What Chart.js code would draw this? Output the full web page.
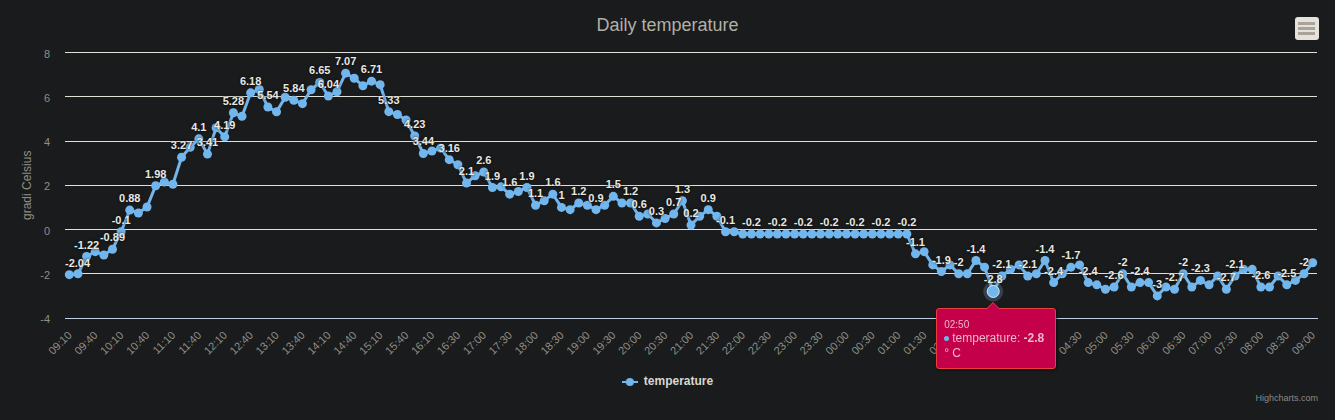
<!DOCTYPE html>
<html>
<head>
<meta charset="utf-8">
<title>Daily temperature</title>
<script src="https://cdn.jsdelivr.net/npm/chart.js@4/dist/chart.umd.min.js"></script>
<style>
  html, body { margin: 0; padding: 0; background: #1a1b1d; }
  #wrap { position: relative; width: 1335px; height: 420px; overflow: hidden; }
  #tip {
    position: absolute; box-sizing: border-box; width: 120px; height: 61px;
    padding: 9px 7px; background: #c4004a; border: 1px solid #e8403c; border-radius: 3px;
    box-shadow: 1px 1px 3px rgba(0,0,0,.6);
    font: 12px/15px "Liberation Sans", Arial, sans-serif; color: #eeb8ca;
  }
  #tip:before, #tip:after { content: ""; position: absolute; border-style: solid; border-top: 0; border-left-color: transparent; border-right-color: transparent; }
  #tip:before { left: 49px; top: -7px; border-width: 0 7px 7px; border-bottom-color: #e8403c; }
  #tip:after { left: 50px; top: -6px; border-width: 0 6px 6px; border-bottom-color: #c4004a; }
  #tip .t { font-size: 10px; line-height: 13px; }
  #tip .d { display: inline-block; width: 5px; height: 5px; margin: 0 3px 1px 0; border-radius: 50%; background: #72b6ee; }
</style>
</head>
<body>
<div id="wrap">
  <canvas id="chart" width="1335" height="420"></canvas>
  <div id="tip" style="display:none"></div>
</div>
<script>
const times = [
  '09:10','09:20','09:30','09:40','09:50','10:00','10:10','10:20','10:30','10:40','10:50','11:00',
  '11:10','11:20','11:30','11:40','11:50','12:00','12:10','12:20','12:30','12:40','12:50','13:00',
  '13:10','13:20','13:30','13:40','13:50','14:00','14:10','14:20','14:30','14:40','14:50','15:00',
  '15:10','15:20','15:30','15:40','15:50','16:00','16:10','16:20','16:20','16:30','16:40','16:50',
  '17:00','17:10','17:20','17:30','17:40','17:50','18:00','18:10','18:20','18:30','18:40','18:50',
  '19:00','19:10','19:20','19:30','19:40','19:50','20:00','20:10','20:20','20:30','20:40','20:50',
  '21:00','21:10','21:20','21:30','21:40','21:50','22:00','22:10','22:20','22:30','22:40','22:50',
  '23:00','23:10','23:20','23:30','23:40','23:50','00:00','00:10','00:20','00:30','00:40','00:50',
  '01:00','01:10','01:20','01:30','01:40','01:50','02:00','02:10','02:20','02:30','02:40','02:50',
  '03:00','03:10','03:20','03:30','03:40','03:50','04:00','04:10','04:20','04:30','04:40','04:50',
  '05:00','05:10','05:20','05:30','05:40','05:50','06:00','06:10','06:20','06:30','06:40','06:50',
  '07:00','07:10','07:20','07:30','07:40','07:50','08:00','08:10','08:20','08:30','08:40','08:50',
  '09:00'
];
const temperature = [
  -2.04,-2,-1.22,-1,-1.15,-0.89,-0.1,0.88,0.75,1.02,1.98,2.15,
  2.05,3.27,3.72,4.1,3.41,4.6,4.19,5.28,5.12,6.18,6.33,5.54,
  5.32,5.98,5.84,5.69,6.32,6.65,6.04,6.23,7.07,6.84,6.5,6.71,
  6.55,5.33,5.2,4.95,4.23,3.44,3.55,3.68,3.16,2.93,2.1,2.43,
  2.6,1.9,1.93,1.6,1.72,1.9,1.1,1.3,1.6,1,0.9,1.2,
  1.1,0.9,1.1,1.5,1.2,1.2,0.6,0.7,0.3,0.5,0.7,1.3,
  0.2,0.6,0.9,0.6,-0.1,-0.1,-0.2,-0.2,-0.2,-0.2,-0.2,-0.2,
  -0.2,-0.2,-0.2,-0.2,-0.2,-0.2,-0.2,-0.2,-0.2,-0.2,-0.2,-0.2,
  -0.2,-0.2,-1.1,-1,-1.6,-1.9,-1.6,-2,-2,-1.4,-1.7,-2.8,
  -2.1,-1.8,-1.6,-2.1,-2,-1.4,-2.4,-2,-1.7,-1.6,-2.4,-2.5,
  -2.7,-2.6,-2,-2.6,-2.4,-2.4,-3,-2.6,-2.7,-2,-2.6,-2.3,
  -2.5,-2.1,-2.7,-2.1,-1.8,-1.8,-2.6,-2.6,-2.1,-2.5,-2.3,-2,
  -1.5
];
// points whose value label survives the overlap hiding in the original
const labelled = [
  0,2,5,6,7,10,13,15,16,18,19,21,23,26,29,30,32,35,37,40,41,44,46,48,49,51,53,54,
  56,57,59,61,63,65,66,68,70,71,72,74,76,79,82,85,88,91,94,97,98,101,103,105,107,108,
  111,113,114,116,118,121,122,124,126,128,129,131,134,135,138,141,143
];
const yTicks = [-4, -2, 0, 2, 4, 6, 8];
const activeIndex = 107;

const font = '"Liberation Sans", Arial, sans-serif';
const blue = '#72b6ee';
const axisGrey = '#908f84';

// point labels, there is no datalabels plugin here
const valueLabels = {
  id: 'valueLabels',
  afterDatasetsDraw(chart) {
    const { ctx, chartArea } = chart;
    const pts = chart.getDatasetMeta(0).data;
    ctx.save();
    ctx.font = 'bold 11px ' + font;
    ctx.textAlign = 'center';
    ctx.textBaseline = 'middle';
    labelled.forEach(i => {
      const text = String(temperature[i]);
      const half = ctx.measureText(text).width / 2;
      const x = Math.max(pts[i].x, chartArea.left + half);
      ctx.shadowColor = 'rgba(0,0,0,.9)';
      ctx.shadowBlur = 3;
      ctx.fillStyle = '#e8e8e0';
      ctx.fillText(text, x, pts[i].y - 11);
    });
    ctx.restore();
  }
};

// background, halo behind the hovered point, menu button and credits
const extras = {
  id: 'extras',
  beforeDraw(chart) {
    chart.ctx.fillStyle = '#1a1b1d';
    chart.ctx.fillRect(0, 0, chart.width, chart.height);
  },
  beforeDatasetsDraw(chart) {
    const p = chart.getDatasetMeta(0).data[activeIndex];
    const { ctx } = chart;
    ctx.save();
    ctx.fillStyle = 'rgba(124,181,236,.25)';
    ctx.beginPath();
    ctx.arc(p.x, p.y, 10, 0, Math.PI * 2);
    ctx.fill();
    ctx.restore();
  },
  afterDraw(chart) {
    const { ctx } = chart;
    ctx.save();
    ctx.fillStyle = '#e4e2da';
    ctx.beginPath();
    ctx.roundRect(1295, 17, 24, 23, 3);
    ctx.fill();
    ctx.fillStyle = '#a8a498';
    [22, 27, 32].forEach(y => ctx.fillRect(1298, y, 17, 3));
    ctx.font = '9px ' + font;
    ctx.fillStyle = '#8a8a84';
    ctx.textAlign = 'right';
    ctx.textBaseline = 'middle';
    ctx.fillText('Highcharts.com', 1318, 399);
    ctx.restore();
  }
};

function legendIcon() {
  const c = document.createElement('canvas');
  c.width = 16; c.height = 10;
  const g = c.getContext('2d');
  g.fillStyle = blue;
  g.fillRect(0, 4, 16, 2);
  g.beginPath();
  g.arc(8, 5, 4, 0, Math.PI * 2);
  g.fill();
  return c;
}

function drawTip({ chart, tooltip }) {
  const el = document.getElementById('tip');
  if (!tooltip.opacity) { el.style.display = 'none'; return; }
  const i = tooltip.dataPoints[0].dataIndex;
  el.innerHTML = '<div class="t">' + times[i] + '</div><span class="d"></span>temperature: <b>' +
    temperature[i] + '</b><br>° C';
  el.style.left = (tooltip.caretX - 57) + 'px';
  el.style.top = (tooltip.caretY + 17) + 'px';
  el.style.display = 'block';
}

const canvas = document.getElementById('chart');
canvas.getContext('2d', { alpha: false }); // opaque canvas, text gets the same antialiasing as the svg

const chart = new Chart(canvas, {
  type: 'line',
  data: {
    labels: times,
    datasets: [{
      label: 'temperature',
      data: temperature,
      borderColor: blue,
      backgroundColor: blue,
      borderWidth: 3,
      pointRadius: 4.5,
      pointHoverRadius: 6,
      pointBorderWidth: 0,
      pointHoverBorderWidth: 1,
      pointHoverBorderColor: '#dfe8f0',
      pointHoverBackgroundColor: blue,
      tension: 0
    }]
  },
  options: {
    responsive: false,
    animation: false,
    events: [],
    layout: { padding: { left: 0, right: 0, top: 0, bottom: 22 } },
    plugins: {
      title: {
        display: true,
        text: 'Daily temperature',
        color: '#b0b0a4',
        font: { family: font, size: 18, weight: 'normal' },
        padding: { top: 15, bottom: 16 }
      },
      legend: {
        position: 'bottom',
        labels: {
          color: '#d8d8d0',
          font: { family: font, size: 12, weight: 'bold' },
          usePointStyle: true,
          pointStyleWidth: 16,
          padding: 14,
          generateLabels(chart) {
            const items = Chart.defaults.plugins.legend.labels.generateLabels(chart);
            items.forEach(it => { it.pointStyle = legendIcon(); it.fontColor = '#d8d8d0'; });
            return items;
          }
        }
      },
      tooltip: { enabled: false, external: drawTip }
    },
    scales: {
      x: {
        offset: true,
        afterFit(scale) { scale.height = 44; },
        grid: { display: false },
        border: { color: '#c0d0e0', width: 1 },
        ticks: {
          autoSkip: false,
          maxRotation: 45,
          minRotation: 45,
          padding: 3,
          labelOffset: 1,
          color: axisGrey,
          font: { family: font, size: 11 },
          callback(value, index) { return index % 3 === 0 ? times[index] : ''; }
        }
      },
      y: {
        min: -4,
        max: 8,
        afterFit(scale) { scale.width = 65; },
        afterBuildTicks(scale) { scale.ticks = yTicks.map(value => ({ value })); },
        title: {
          display: true,
          text: 'gradi Celsius',
          color: axisGrey,
          font: { family: font, size: 12, weight: 'normal' },
          padding: { top: 20, bottom: 0 }
        },
        grid: { color: '#e0dfd8', drawTicks: false, lineWidth: 1 },
        border: { display: false },
        ticks: {
          color: axisGrey,
          padding: 15,
          labelOffset: 2,
          font: { family: font, size: 11 }
        }
      },
      // empty right margin so title and legend stay centred on the whole page
      margin: {
        position: 'right',
        afterFit(scale) { scale.width = 18; },
        grid: { display: false },
        border: { display: false },
        ticks: { display: false }
      }
    }
  },
  plugins: [extras, valueLabels]
});

const active = [{ datasetIndex: 0, index: activeIndex }];
chart.setActiveElements(active);
chart.tooltip.setActiveElements(active, { x: 0, y: 0 });
chart.update();
</script>
</body>
</html>
